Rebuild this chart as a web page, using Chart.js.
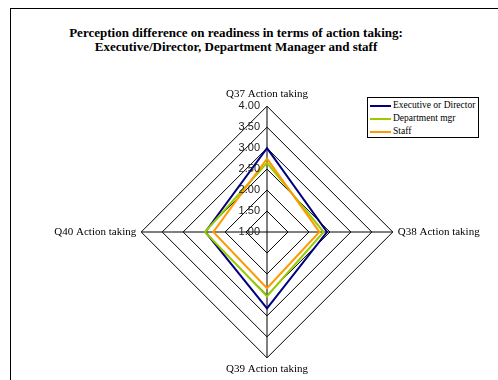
<!DOCTYPE html>
<html lang="en">
<head>
  <meta charset="UTF-8">
  <title>Perception difference on readiness - action taking</title>
  <script src="https://cdn.jsdelivr.net/npm/chart.js"></script>
  <style>
    body {
      margin: 0;
      background: #fff;
      width: 498px;
      height: 380px;
      overflow: hidden;
      position: relative;
      font-family: "Liberation Serif", "Times New Roman", serif;
    }
    .frame {
      position: absolute;
      left: 10px;
      top: 8px;
      width: 600px;
      height: 500px;
      border-left: 1px solid #000;
      border-top: 1px solid #000;
    }
    .title {
      position: absolute;
      left: 0;
      width: 472px;
      top: 26px;
      text-align: center;
      font-weight: bold;
      font-size: 13px;
      line-height: 14px;
      color: #000;
    }
    .chart-box {
      position: absolute;
      left: 47px;
      top: 88px;
      width: 440px;
      height: 288px;
    }
    .legend {
      position: absolute;
      left: 367px;
      top: 97px;
      width: 112px;
      height: 41px;
      border: 1px solid #000;
      background: #fff;
      font-size: 9.5px;
      box-sizing: border-box;
      padding-top: 1px;
    }
    .legend div {
      height: 13px;
      line-height: 13px;
      white-space: nowrap;
    }
    .legend span.swatch {
      display: inline-block;
      width: 21px;
      height: 2px;
      vertical-align: middle;
      margin: 0 2px 0 2px;
    }
  </style>
</head>
<body>
  <div class="frame"></div>
  <div class="title">Perception difference on readiness in terms of action taking:<br>Executive/Director, Department Manager and staff</div>
  <div class="chart-box"><canvas id="radar" width="440" height="288"></canvas></div>
  <div class="legend" id="legend"></div>

  <script>
    const questions = ['Q37 Action taking', 'Q38 Action taking', 'Q39 Action taking', 'Q40 Action taking'];
    const seriesNames = ['Executive or Director', 'Department mgr', 'Staff'];
    const seriesColors = ['#000080', '#99CC00', '#FF9900'];
    const executive = [3.00, 2.43, 2.82, 2.47];
    const deptManager = [2.65, 2.35, 2.53, 2.48];
    const staff = [2.75, 2.25, 2.34, 2.28];
    const scaleMin = 1;
    const scaleMax = 4;
    const scaleStep = 0.5;

    const seriesValues = [executive, deptManager, staff];

    // value labels sit left of the vertical axis, including the 1.00 at the centre
    const axisLabels = {
      id: 'axisLabels',
      afterDatasetsDraw(chart) {
        const scale = chart.scales.r;
        const ctx = chart.ctx;
        ctx.save();
        ctx.font = '11px "Liberation Sans", Arial, sans-serif';
        ctx.fillStyle = '#222';
        ctx.textAlign = 'right';
        ctx.textBaseline = 'middle';
        scale.ticks.forEach(t => {
          const d = scale.getDistanceFromCenterForValue(t.value);
          ctx.fillText(t.value.toFixed(2), scale.xCenter - 7, scale.yCenter - d);
        });
        ctx.restore();
      }
    };

    new Chart(document.getElementById('radar'), {
      type: 'radar',
      data: {
        labels: questions,
        datasets: seriesValues.map((vals, i) => ({
          label: seriesNames[i],
          data: vals,
          borderColor: seriesColors[i],
          backgroundColor: 'transparent',
          borderWidth: 2,
          pointRadius: 0,
          fill: false,
          tension: 0,
          order: seriesValues.length - 1 - i
        }))
      },
      options: {
        responsive: false,
        animation: false,
        plugins: {
          legend: { display: false },
          title: { display: false },
          tooltip: { enabled: false }
        },
        scales: {
          r: {
            min: scaleMin,
            max: scaleMax,
            beginAtZero: false,
            ticks: {
              display: false,
              stepSize: scaleStep
            },
            grid: {
              color: '#000',
              lineWidth: 1
            },
            angleLines: {
              color: '#000',
              lineWidth: 1
            },
            pointLabels: {
              color: '#000',
              padding: 5,
              font: { family: '"Liberation Serif", "Times New Roman", serif', size: 11 }
            }
          }
        }
      },
      plugins: [axisLabels]
    });

    // legend built from the same series names and colours
    const legend = document.getElementById('legend');
    seriesNames.forEach((name, i) => {
      const row = document.createElement('div');
      const sw = document.createElement('span');
      sw.className = 'swatch';
      sw.style.background = seriesColors[i];
      row.appendChild(sw);
      row.appendChild(document.createTextNode(name));
      legend.appendChild(row);
    });
  </script>
</body>
</html>
